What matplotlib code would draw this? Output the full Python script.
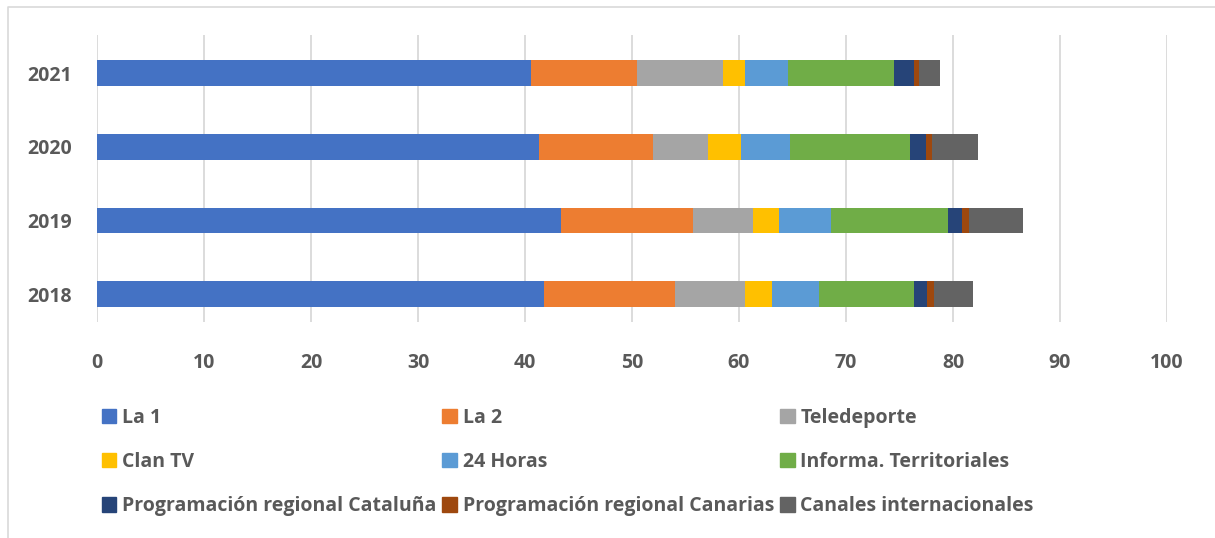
import numpy as np
import matplotlib
matplotlib.use("Agg")
import matplotlib.pyplot as plt
from matplotlib.lines import Line2D
from matplotlib.patches import Patch

plt.rcParams["font.family"] = ["Open Sans", "DejaVu Sans"]

years = ["2018", "2019", "2020", "2021"]
channels = ["La 1", "La 2", "Teledeporte", "Clan TV", "24 Horas", "Informa. Territoriales",
            "Programación regional Cataluña", "Programación regional Canarias", "Canales internacionales"]
colors = ["#4472C4", "#ED7D31", "#A5A5A5", "#FFC000", "#5B9BD5", "#70AD47",
          "#264478", "#9E480E", "#636363"]
# shares per year (2018, 2019, 2020, 2021)
la1 = [41.8, 43.4, 41.3, 40.6]
la2 = [12.2, 12.3, 10.7, 9.9]
teledeporte = [6.6, 5.6, 5.1, 8.0]
clan = [2.5, 2.4, 3.1, 2.1]
horas24 = [4.4, 4.9, 4.6, 4.0]
territoriales = [8.9, 10.9, 11.2, 9.9]
cataluna = [1.2, 1.3, 1.5, 1.9]
canarias = [0.6, 0.7, 0.5, 0.4]
internacionales = [3.7, 5.0, 4.3, 2.0]
series = [la1, la2, teledeporte, clan, horas24, territoriales, cataluna, canarias, internacionales]

W, H = 1215, 538
fig = plt.figure(figsize=(W / 100, H / 100), dpi=100)
ax = fig.add_axes([97 / W, 1 - 322 / H, (1167 - 97) / W, (322 - 35) / H])

y = np.arange(len(years))
left = np.zeros(len(years))
for vals, c, name in zip(series, colors, channels):
    ax.barh(y, vals, left=left, height=0.35, color=c, label=name, zorder=3)
    left += np.array(vals)

ax.set_xlim(0, 100)
ax.set_ylim(-0.38, 3.52)
ax.set_xticks(np.arange(0, 101, 10))
ax.set_yticks(y)
ax.set_yticklabels(years)
ax.grid(axis="x", color="#D9D9D9", lw=1.3, zorder=0)
for s in ax.spines.values():
    s.set_visible(False)
ax.tick_params(axis="both", length=0, labelsize=14, labelcolor="#595959")
ax.tick_params(axis="x", pad=22)
ax.tick_params(axis="y", pad=18)
for lab in ax.get_xticklabels() + ax.get_yticklabels():
    lab.set_fontweight("bold")

# legend, filled row by row like the original
handles = [Patch(color=c) for c in colors]
order = [0, 3, 6, 1, 4, 7, 2, 5, 8]
leg = fig.legend([handles[i] for i in order], [channels[i] for i in order], ncol=3,
                 loc="upper left", bbox_to_anchor=(92 / W, 1 - 398 / H), frameon=False,
                 prop={"size": 14, "weight": "bold"}, handlelength=0.75, handleheight=0.75,
                 handletextpad=0.3, columnspacing=0.3, labelspacing=1.25, borderpad=0)
for t in leg.get_texts():
    t.set_color("#595959")

# outer chart frame (left and top visible)
fig.add_artist(Line2D([8 / W, 8 / W, 1], [0, 1 - 7 / H, 1 - 7 / H], transform=fig.transFigure,
                      color="#D9D9D9", lw=1.2))

fig.savefig("out.png", dpi=100)
